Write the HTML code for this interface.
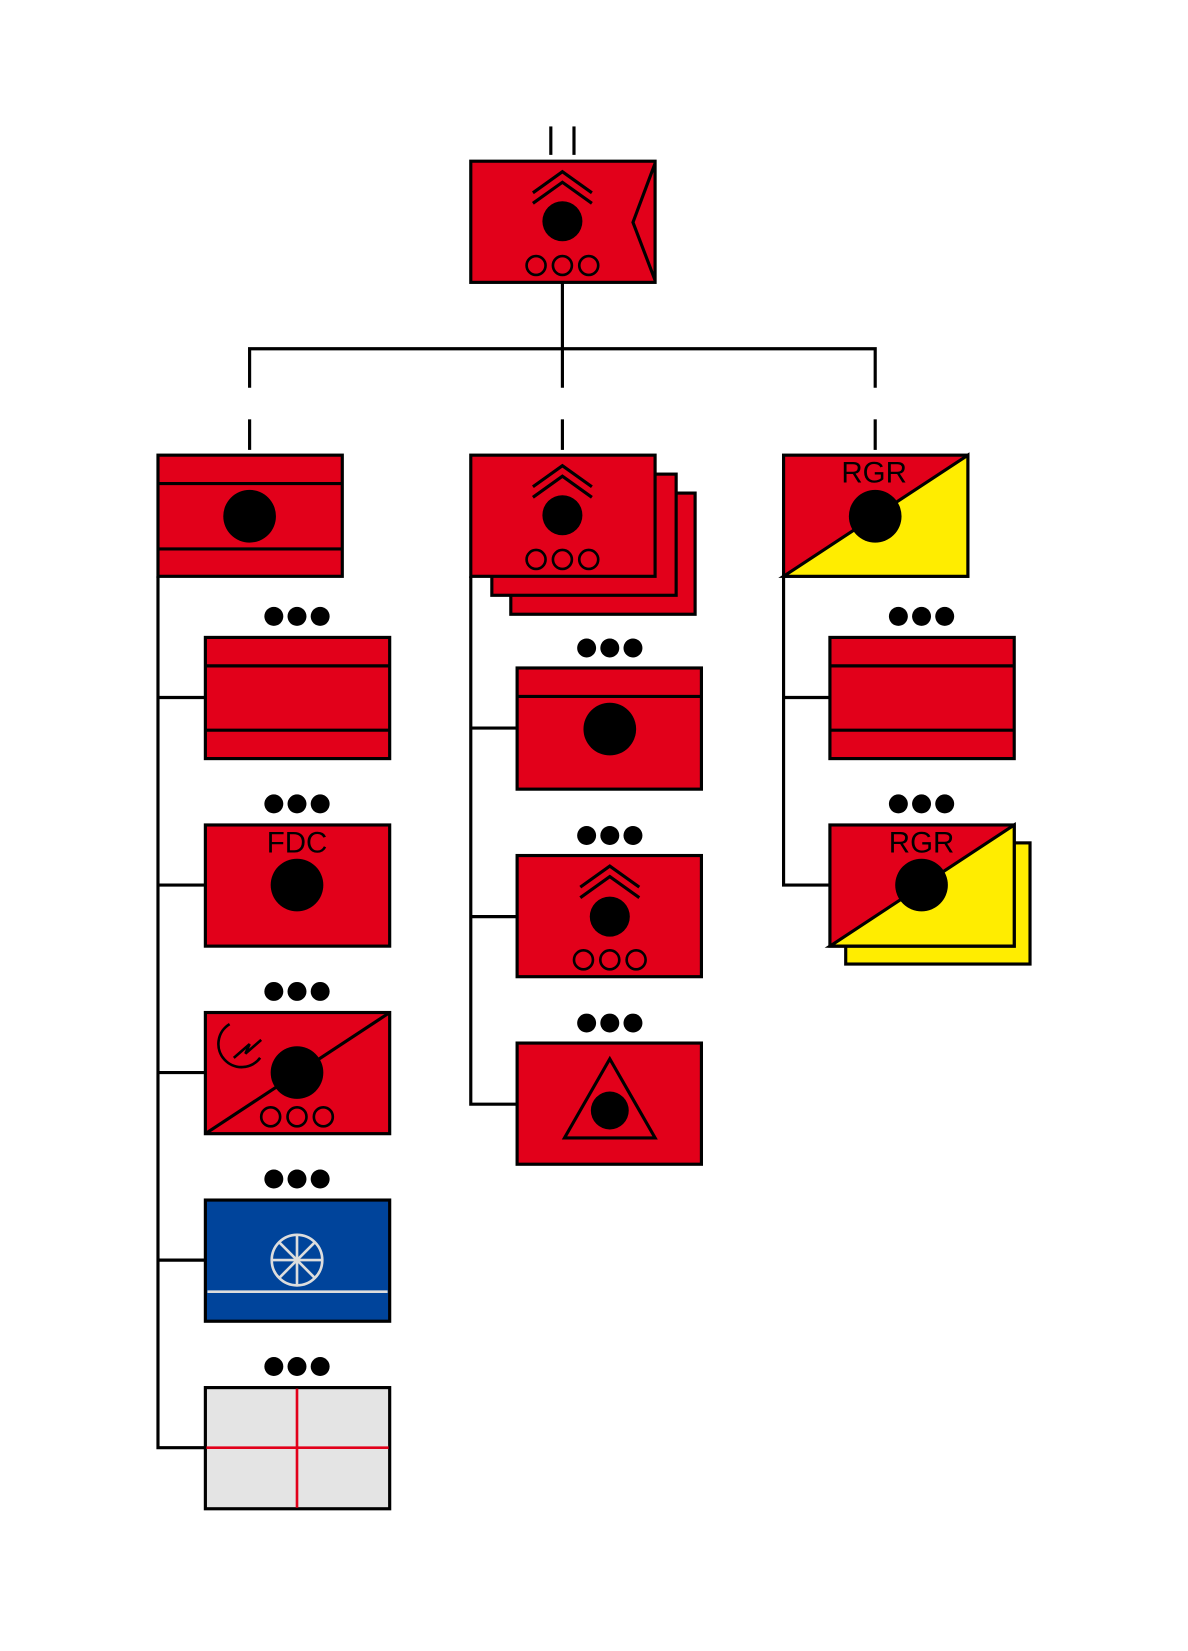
<!DOCTYPE html>
<html><head><meta charset="utf-8"><style>html,body{margin:0;padding:0;background:#fff}svg{display:block}</style></head>
<body>
<svg width="1188" height="1651" viewBox="0 0 1128 1567" preserveAspectRatio="none" xmlns="http://www.w3.org/2000/svg" font-family="Liberation Sans, sans-serif">
<defs>
<g id="dots"><circle cx="-22" cy="0" r="9"/><circle cx="0" cy="0" r="9"/><circle cx="22" cy="0" r="9"/></g>
<g id="chev" fill="none" stroke="#000" stroke-width="3"><polyline points="-28,20 0,0 28,20"/><polyline points="-28,30 0,10 28,30"/></g>
<g id="rings" fill="none" stroke="#000" stroke-width="2.5"><circle cx="-25" cy="0" r="9"/><circle cx="0" cy="0" r="9"/><circle cx="25" cy="0" r="9"/></g>
</defs>
<g stroke="#000" stroke-width="3" fill="none">
<line x1="523" y1="120" x2="523" y2="147"/><line x1="545" y1="120" x2="545" y2="147"/>
<polyline points="534,268 534,368"/>
<polyline points="237,368 237,331 831,331 831,368"/>
<line x1="237" y1="398" x2="237" y2="427"/><line x1="534" y1="398" x2="534" y2="427"/><line x1="831" y1="398" x2="831" y2="427"/>
<polyline points="150,547 150,1374 195,1374"/>
<line x1="150" y1="662" x2="195" y2="662"/><line x1="150" y1="840" x2="195" y2="840"/><line x1="150" y1="1018" x2="195" y2="1018"/><line x1="150" y1="1196" x2="195" y2="1196"/>
<polyline points="447,547 447,1048 491,1048"/>
<line x1="447" y1="691" x2="491" y2="691"/><line x1="447" y1="870" x2="491" y2="870"/>
<polyline points="744,547 744,840 788,840"/>
<line x1="744" y1="662" x2="788" y2="662"/>
</g>
<g stroke="#000" stroke-width="3">
<rect x="447" y="153" width="175" height="115" fill="#e2001a"/>
<polyline points="622,155 601,211 622,266" fill="none"/>
</g>
<use href="#chev" x="534" y="163"/>
<circle cx="534" cy="210" r="19"/>
<use href="#rings" x="534" y="252"/>

<g stroke="#000" stroke-width="3">
<rect x="150" y="432" width="175" height="115" fill="#e2001a"/>
<line x1="150" y1="459" x2="325" y2="459"/><line x1="150" y1="521" x2="325" y2="521"/>
<rect x="195" y="605" width="175" height="115" fill="#e2001a"/>
<line x1="195" y1="632" x2="370" y2="632"/><line x1="195" y1="693" x2="370" y2="693"/>
<rect x="195" y="783" width="175" height="115" fill="#e2001a"/>
<rect x="195" y="961" width="175" height="115" fill="#e2001a"/>
<line x1="195" y1="1076" x2="370" y2="961"/>
<rect x="195" y="1139" width="175" height="115" fill="#00449b"/>
<rect x="195" y="1317" width="175" height="115" fill="#e4e4e4"/>
</g>
<circle cx="237" cy="490" r="25"/>
<use href="#dots" x="282" y="585"/><use href="#dots" x="282" y="763"/><use href="#dots" x="282" y="941"/><use href="#dots" x="282" y="1119"/><use href="#dots" x="282" y="1297"/>
<text x="282" y="809" font-size="28" text-anchor="middle">FDC</text>
<circle cx="282" cy="840" r="25"/>
<circle cx="282" cy="1018" r="25"/>
<use href="#rings" x="282" y="1060"/>
<g fill="none" stroke="#000" stroke-width="2.5">
<path d="M218,972 A22,22 0 1 0 247,1004"/>
<polyline points="222,1004 237,991 233,1000 248,987"/>
</g>
<line x1="197" y1="1226" x2="368" y2="1226" stroke="#ddd" stroke-width="2.5"/>
<g stroke="#ddd" stroke-width="2.5" fill="none">
<circle cx="282" cy="1196" r="24"/>
<line x1="282" y1="1172" x2="282" y2="1220"/><line x1="258" y1="1196" x2="306" y2="1196"/>
<line x1="265" y1="1179" x2="299" y2="1213"/><line x1="299" y1="1179" x2="265" y2="1213"/>
</g>
<g stroke="#e2001a" stroke-width="2.5">
<line x1="282" y1="1318" x2="282" y2="1431"/><line x1="196" y1="1374" x2="369" y2="1374"/>
</g>

<g stroke="#000" stroke-width="3">
<rect x="485" y="468" width="175" height="115" fill="#e2001a"/>
<rect x="467" y="450" width="175" height="115" fill="#e2001a"/>
<rect x="447" y="432" width="175" height="115" fill="#e2001a"/>
<rect x="491" y="634" width="175" height="115" fill="#e2001a"/>
<line x1="491" y1="661" x2="666" y2="661"/>
<rect x="491" y="812" width="175" height="115" fill="#e2001a"/>
<rect x="491" y="990" width="175" height="115" fill="#e2001a"/>
<polygon points="536,1080 579,1005 622,1080" fill="none"/>
</g>
<use href="#chev" x="534" y="442"/>
<circle cx="534" cy="489" r="19"/>
<use href="#rings" x="534" y="531"/>
<use href="#dots" x="579" y="615"/><use href="#dots" x="579" y="793"/><use href="#dots" x="579" y="971"/>
<circle cx="579" cy="692" r="25"/>
<use href="#chev" x="579" y="822"/>
<circle cx="579" cy="870" r="19"/>
<use href="#rings" x="579" y="911"/>
<circle cx="579" cy="1054" r="18"/>

<g stroke="#000" stroke-width="3">
<rect x="744" y="432" width="175" height="115" fill="#e2001a"/>
<polygon points="744,547 919,432 919,547" fill="#ffed00"/>
<rect x="788" y="605" width="175" height="115" fill="#e2001a"/>
<line x1="788" y1="632" x2="963" y2="632"/><line x1="788" y1="693" x2="963" y2="693"/>
<rect x="803" y="800" width="175" height="115" fill="#ffed00"/>
<rect x="788" y="783" width="175" height="115" fill="#e2001a"/>
<polygon points="788,898 963,783 963,898" fill="#ffed00"/>
</g>
<text x="830" y="458" font-size="28" text-anchor="middle">RGR</text>
<circle cx="831" cy="490" r="25"/>
<use href="#dots" x="875" y="585"/><use href="#dots" x="875" y="763"/>
<text x="875" y="809" font-size="28" text-anchor="middle">RGR</text>
<circle cx="875" cy="840" r="25"/>
</svg>
</body></html>
